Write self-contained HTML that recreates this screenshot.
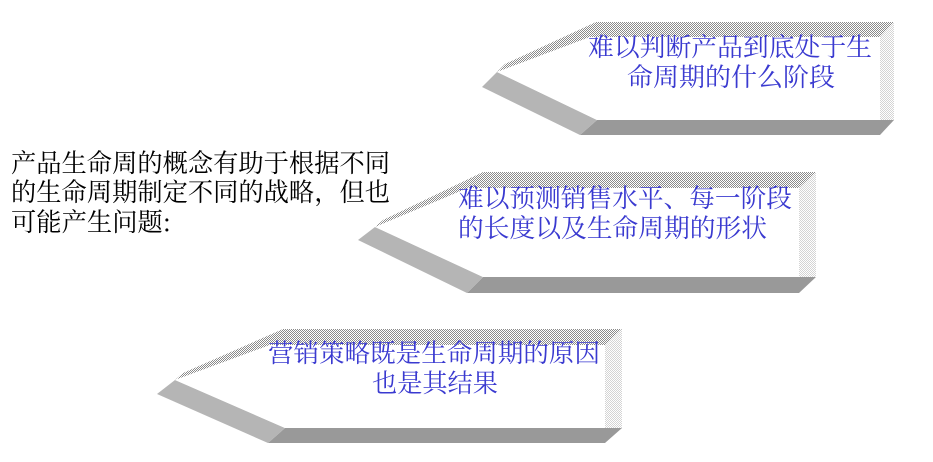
<!DOCTYPE html>
<html><head><meta charset="utf-8">
<style>
html,body{margin:0;padding:0;background:#fff;}
svg{display:block;}
text{font-family:"Noto Serif CJK SC","Liberation Serif",serif;font-size:25.3px;}
.b{fill:#3a3ad0;}
</style></head><body>
<svg width="933" height="462" viewBox="0 0 933 462" xmlns="http://www.w3.org/2000/svg">
<defs>
<pattern id="h" width="2" height="2" patternUnits="userSpaceOnUse">
<rect width="2" height="2" fill="#fff"/><rect width="1" height="1" fill="#8a8a8a"/><rect x="1" y="1" width="1" height="1" fill="#8a8a8a"/>
</pattern>
<pattern id="r" width="2" height="2" patternUnits="userSpaceOnUse">
<rect width="2" height="2" fill="#fff"/><rect width="1" height="1" fill="#d4d4d4"/><rect x="1" y="1" width="1" height="1" fill="#d4d4d4"/>
</pattern>
</defs>
<g>
<polygon points="497,72 590,37 880,37 894,22 596,22 505,64" fill="url(#h)"/>
<polygon points="880,37 894,22 894,120 880,120" fill="url(#r)"/>
<polygon points="597,120 894,120 880,135 580,135" fill="#999"/>
<polygon points="497,72 597,120 580,135 482,87" fill="#b5b5b5"/>
<polygon points="497,72 590,37 880,37 880,120 597,120" fill="#fff"/>
</g>
<g>
<polygon points="375,227 468,188 799,188 816,172 483,172 383,220" fill="url(#h)"/>
<polygon points="799,188 816,172 816,277 799,277" fill="url(#r)"/>
<polygon points="483,277 816,277 799,293 467,293" fill="#999"/>
<polygon points="375,227 483,277 467,293 358,240" fill="#b5b5b5"/>
<polygon points="375,227 468,188 799,188 799,277 483,277" fill="#fff"/>
</g>
<g>
<polygon points="175,380 270,345 605,345 622,329 283,329 183,373" fill="url(#h)"/>
<polygon points="605,345 622,329 622,428 605,428" fill="url(#r)"/>
<polygon points="285,428 622,428 605,443 268,443" fill="#999"/>
<polygon points="175,380 285,428 268,443 157,394" fill="#b5b5b5"/>
<polygon points="175,380 270,345 605,345 605,428 285,428" fill="#fff"/>
</g>
<text x="11" y="172" textLength="379" lengthAdjust="spacingAndGlyphs">产品生命周的概念有助于根据不同</text>
<text x="11" y="201" textLength="379" lengthAdjust="spacingAndGlyphs">的生命周期制定不同的战略，但也</text>
<text x="11" y="231">可能产生问题:</text>
<text class="b" x="588" y="56" textLength="284" lengthAdjust="spacingAndGlyphs">难以判断产品到底处于生</text>
<text class="b" x="627" y="86" textLength="208" lengthAdjust="spacingAndGlyphs">命周期的什么阶段</text>
<text class="b" x="458" y="207" textLength="334" lengthAdjust="spacingAndGlyphs">难以预测销售水平、每一阶段</text>
<text class="b" x="458" y="237" textLength="309" lengthAdjust="spacingAndGlyphs">的长度以及生命周期的形状</text>
<text class="b" x="268" y="362" textLength="332" lengthAdjust="spacingAndGlyphs">营销策略既是生命周期的原因</text>
<text class="b" x="372" y="392" textLength="126" lengthAdjust="spacingAndGlyphs">也是其结果</text>
</svg>
</body></html>
